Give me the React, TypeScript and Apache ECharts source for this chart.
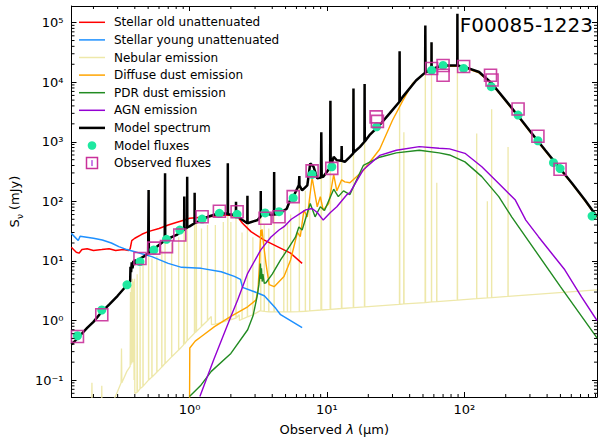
import React, { useEffect, useRef } from "react";
import * as echarts from "echarts";

const FONT = "DejaVu Sans";
const X_MIN = 0.1385;
const X_MAX = 923;
const Y_MIN = 0.052;
const Y_MAX = 1.9e5;

// [wavelength (um), flux (mJy)]
const stellarOld: number[][] = [
  [0.138, 17], [0.15, 14], [0.157, 13.5], [0.165, 15.5], [0.18, 16], [0.2, 15], [0.23, 15.5], [0.26, 16], [0.29, 15],
  [0.33, 15.5], [0.36, 15], [0.37, 16], [0.38, 22], [0.4, 24], [0.45, 28], [0.5, 31], [0.6, 35], [0.7, 40], [0.8, 44],
  [0.92, 48.5], [1.0, 52], [1.36, 55], [1.9, 59], [2.24, 55], [2.43, 43], [2.8, 31], [3.5, 22.4], [4.36, 17.4],
  [5.44, 13.5], [6.6, 9.1],
];

const stellarYoung: number[][] = [
  [0.138, 29], [0.155, 22], [0.16, 26], [0.2, 24], [0.232, 22.4], [0.27, 20], [0.306, 17.4], [0.35, 15.5], [0.4, 14.3],
  [0.532, 11.8], [0.7, 9.1], [0.875, 7.8], [1.22, 7.5], [1.7, 6.6], [2.12, 5.5], [2.35, 4.9], [2.43, 3.6], [3.13, 2.9],
  [3.5, 2.6], [4.24, 1.6], [4.6, 1.25], [6.6, 0.76],
];

const nebular: number[][] = [
  [0.138, 0.01], [0.193, 0.01], [0.195, 0.09], [0.197, 0.01], [0.228, 0.01], [0.23, 0.08], [0.232, 0.01],
  [0.27, 0.01], [0.28, 0.045], [0.3, 0.065], [0.318, 0.09], [0.32, 0.34], [0.322, 0.09], [0.35, 0.14], [0.37, 0.17],
  [0.372, 3], [0.374, 0.18], [0.378, 4], [0.38, 0.19], [0.385, 5], [0.387, 0.2], [0.39, 0.21], [0.392, 4.5],
  [0.395, 0.1], [0.398, 5], [0.4, 0.06], [0.415, 0.062], [0.416, 6], [0.418, 0.063], [0.436, 0.071], [0.437, 8],
  [0.438, 0.072], [0.458, 0.078], [0.459, 9], [0.46, 0.079], [0.503, 0.1], [0.504, 150], [0.505, 0.1],
  [0.532, 0.112], [0.533, 11], [0.534, 0.113], [0.578, 0.135], [0.579, 12], [0.58, 0.136], [0.628, 0.165],
  [0.629, 15], [0.63, 0.166], [0.663, 0.19], [0.664, 290], [0.665, 0.19], [0.741, 0.245], [0.742, 20],
  [0.743, 0.246], [0.833, 0.32], [0.834, 25], [0.835, 0.32], [0.905, 0.39], [0.916, 115], [0.92, 0.4],
  [0.96, 0.46], [0.962, 250], [0.964, 0.46], [1.086, 0.61], [1.09, 135], [1.094, 0.62], [1.12, 0.65], [1.122, 45],
  [1.125, 0.66], [1.22, 0.79], [1.222, 35], [1.225, 0.8], [1.35, 0.99], [1.352, 40], [1.355, 1.0], [1.44, 1.17],
  [1.445, 0.85], [1.54, 0.87], [1.542, 40], [1.545, 0.87], [1.76, 0.95], [1.762, 45], [1.765, 0.95], [1.895, 1.0],
  [1.9, 430], [1.905, 1.0], [1.995, 1.03], [2.0, 45], [2.005, 1.03], [2.175, 1.1], [2.18, 95], [2.185, 1.1],
  [2.3, 1.25], [2.31, 1.0], [2.41, 1.05], [2.412, 30], [2.415, 1.05], [2.635, 1.15], [2.64, 120], [2.645, 1.15],
  [2.89, 1.25], [2.892, 25], [2.895, 1.25], [3.295, 1.48], [3.3, 145], [3.305, 1.45], [3.495, 1.42], [3.5, 40],
  [3.505, 1.42], [3.77, 1.4], [3.775, 35], [3.78, 1.4], [4.12, 1.4], [4.13, 305], [4.14, 1.4], [4.85, 1.4],
  [4.855, 40], [4.86, 1.4], [5.155, 1.4], [5.16, 45], [5.165, 1.4], [5.44, 1.4], [5.445, 60], [5.45, 1.4],
  [6.29, 1.41], [6.3, 260], [6.31, 1.41], [6.96, 1.43], [6.97, 150], [6.98, 1.43], [7.49, 1.45], [7.5, 120],
  [7.51, 1.45], [9.04, 1.5], [9.1, 1400], [9.16, 1.5], [10.55, 1.54], [10.6, 4800], [10.65, 1.54], [12.75, 1.59],
  [12.8, 830], [12.85, 1.59], [15.55, 1.64], [15.6, 7700], [15.65, 1.64], [18.75, 1.69], [18.8, 9200],
  [18.85, 1.69], [33.7, 1.87], [33.8, 32000], [33.9, 1.87], [36.2, 1.9], [36.3, 1450], [36.4, 1.9], [51.8, 2.0],
  [52, 88000], [52.2, 2.0], [57.6, 2.05], [57.7, 46000], [57.8, 2.05], [62.9, 2.08], [63, 205], [63.1, 2.08],
  [88.8, 2.2], [89, 140000], [89.2, 2.2], [122.8, 2.33], [123, 1370], [123.2, 2.33], [146.8, 2.4], [147, 100],
  [147.2, 2.4], [157.8, 2.43], [158, 3500], [158.2, 2.43], [207.7, 2.55], [208, 820], [208.3, 2.55], [923, 3.27],
];

const diffuseDust: number[][] = [
  [1.0, 0.03], [1.005, 0.345], [1.1, 0.45], [1.22, 0.54], [1.52, 0.79], [2.0, 1.17], [2.65, 1.7], [3.04, 2.2],
  [3.15, 3.2], [3.22, 8], [3.27, 20], [3.3, 33], [3.33, 26], [3.37, 34], [3.45, 20], [3.6, 9.1], [3.8, 4.0],
  [4.13, 3.7], [4.87, 5.5], [5.44, 10.4], [5.9, 22], [6.1, 30], [6.4, 25.5], [6.8, 71], [7.2, 55], [7.8, 250],
  [8.5, 81], [8.95, 120], [9.4, 71], [10.3, 92], [11.2, 280], [11.8, 150], [12.8, 230], [13.5, 212], [14.7, 205],
  [18.4, 330], [24.2, 750], [30, 2300], [35.5, 4800], [42, 9500], [52, 14500], [60, 17000], [70, 18500],
  [89, 18500], [101, 17400], [128, 14300], [158, 9300], [199, 4850], [249, 2540], [310, 1340], [388, 700],
  [485, 370], [605, 198], [754, 102], [923, 54],
];

const pdrDust: number[][] = [
  [1.0, 0.053], [1.2, 0.08], [1.44, 0.14], [2.0, 0.28], [2.65, 0.7], [2.9, 1.2], [3.1, 2.5], [3.2, 4], [3.25, 6],
  [3.28, 9], [3.31, 5], [3.34, 7.5], [3.38, 4.5], [3.42, 6], [3.5, 4.2], [3.6, 4.3], [4.0, 6], [4.6, 10.4],
  [5.3, 17], [5.9, 25], [6.25, 37], [6.6, 33], [7.56, 92], [8.2, 55], [8.95, 81], [9.6, 70], [11.2, 160],
  [12.1, 120], [13.2, 150], [14.7, 130], [16, 200], [18.4, 400], [24.2, 550], [32, 650], [47, 720], [65.5, 650],
  [78, 600], [101, 460], [134, 260], [178, 120], [221, 55], [500, 3.7], [923, 0.51],
];

const agn: number[][] = [
  [1.19, 0.053], [1.5, 0.22], [2.0, 1.17], [2.24, 2.2], [2.65, 6.2], [3.3, 15.3], [3.9, 25], [4.48, 33],
  [4.87, 37.6], [5.5, 50], [6.4, 63], [7.0, 72], [7.8, 76], [8.5, 65], [9.4, 48.5], [10.6, 65], [11.8, 81],
  [14, 130], [14.7, 140], [18.4, 340], [24.2, 590], [32, 720], [47, 830], [65.5, 780], [78, 760], [101, 640],
  [134, 380], [178, 200], [235, 105], [280, 48.5], [346, 25.5], [440, 12.7], [538, 7.1], [712, 2.5], [923, 1.0],
];

const modelSpectrum: number[][] = [
  [0.138, 0.4], [0.145, 0.44], [0.16, 0.56], [0.18, 0.75], [0.2, 0.95], [0.23, 1.4], [0.26, 1.85], [0.3, 2.6],
  [0.35, 3.9], [0.37, 4.5], [0.372, 8], [0.376, 6.5], [0.38, 9.5], [0.385, 7.5], [0.39, 10], [0.395, 8.5],
  [0.4, 10.5], [0.41, 9], [0.426, 10.4], [0.44, 11], [0.47, 12], [0.5, 13.5], [0.503, 13.5], [0.504, 155],
  [0.506, 13.6], [0.53, 15], [0.56, 16.3], [0.6, 18.5], [0.66, 22], [0.662, 22], [0.664, 295], [0.666, 22],
  [0.74, 25], [0.806, 27.3], [0.9, 33], [0.914, 33], [0.916, 120], [0.918, 34], [0.96, 36], [0.962, 258],
  [0.964, 36.5], [1.0, 38], [1.088, 43], [1.09, 139], [1.092, 43], [1.22, 48.5], [1.36, 55], [1.65, 63],
  [1.895, 62], [1.9, 434], [1.905, 61], [2.175, 59], [2.18, 98], [2.185, 58], [2.43, 48.5], [2.635, 43],
  [2.64, 124], [2.645, 43], [3.13, 48.5], [3.295, 56], [3.3, 149], [3.305, 58], [3.5, 67], [3.9, 59], [4.12, 60],
  [4.13, 310], [4.14, 60], [4.48, 62], [5.1, 75], [5.44, 110], [5.75, 125], [6.25, 187], [6.29, 190], [6.3, 265],
  [6.31, 185], [6.6, 153], [7.2, 185], [7.56, 434], [8.0, 380], [8.5, 243], [9.04, 250], [9.1, 1450],
  [9.16, 255], [9.4, 258], [10.55, 370], [10.6, 4870], [10.65, 380], [11.2, 560], [11.8, 490], [12.75, 480],
  [12.8, 850], [12.85, 480], [13.5, 460], [14.7, 560], [15.55, 640], [15.6, 7800], [15.65, 660], [17.4, 820],
  [18.75, 1000], [18.8, 9300], [18.85, 1010], [20.4, 1290], [24.2, 1910], [28.7, 3020], [33.7, 4700],
  [33.8, 33000], [33.9, 4800], [35.5, 5620], [44.5, 10700], [51.8, 14500], [52, 89500], [52.2, 14600],
  [55.5, 15800], [57.6, 16500], [57.7, 47000], [57.8, 16600], [69, 19100], [88.8, 19000], [89, 141000],
  [89.2, 19000], [101, 17900], [128, 14800], [158, 9600], [199, 5000], [249, 2620], [310, 1380], [388, 720],
  [485, 380], [605, 203], [754, 105], [923, 55],
];

const modelFluxLam = [0.153, 0.23, 0.351, 0.436, 0.55, 0.68, 0.85, 1.235, 1.65, 2.22, 3.55, 4.48, 5.68, 7.8, 10.85, 23, 57.8, 70, 98.8, 157, 246, 343, 445, 497, 850];
const modelFluxVal = [0.555, 1.5, 3.97, 9.7, 15.3, 23, 33, 50.4, 63, 60.5, 64, 67, 114, 283, 380, 1780, 15800, 19100, 17000, 8400, 2800, 1040, 445, 355, 56.5];

const obsLam = [0.153, 0.23, 0.436, 0.55, 0.68, 0.85, 1.235, 1.65, 2.22, 3.55, 4.48, 5.68, 7.8, 10.85, 22.8, 23.3, 57.8, 70, 70, 98.8, 155, 159, 246, 343, 497];
const obsVal = [0.54, 1.25, 11, 16.4, 17.4, 27.3, 55, 68, 67, 52, 55, 120, 325, 357, 2620, 2200, 17000, 19100, 13100, 18300, 13100, 10900, 3550, 1240, 345];

const legendNames = [
  "Stellar old unattenuated",
  "Stellar young unattenuated",
  "Nebular emission",
  "Diffuse dust emission",
  "PDR dust emission",
  "AGN emission",
  "Model spectrum",
  "Model fluxes",
  "Observed fluxes",
];

const C_RED = "#ff0000";
const C_BLUE = "#1e90ff";
const C_NEB = "#eee8aa";
const C_ORANGE = "#ffa500";
const C_GREEN = "#228b22";
const C_PURPLE = "#9400d3";
const C_BLACK = "#000000";
const C_DOT = "#1ee8a0";
const C_SQ = "#c9309a";

const SUP: Record<string, string> = { "-": "\u207b", "0": "\u2070", "1": "\u00b9", "2": "\u00b2", "3": "\u00b3", "4": "\u2074", "5": "\u2075", "6": "\u2076", "7": "\u2077", "8": "\u2078", "9": "\u2079" };
function powLabel(v: number): string {
  const l = Math.log10(v);
  const r = Math.round(l);
  if (Math.abs(l - r) > 1e-6) return "";
  return "10" + String(r).split("").map((c) => SUP[c] || c).join("");
}

function minorValues(lo: number, hi: number): number[] {
  const out: number[] = [];
  for (let e = -3; e <= 6; e++) {
    for (let m = 2; m <= 9; m++) {
      const v = m * Math.pow(10, e);
      if (v > lo && v < hi) out.push(v);
    }
  }
  return out;
}

export default function App() {
  const ref = useRef<HTMLDivElement>(null);
  useEffect(() => {
    if (!ref.current) return;
    const chart = echarts.init(ref.current, null, { renderer: "svg" });

    const axisCommon: any = {
      type: "log",
      logBase: 10,
      axisLine: { show: true, onZero: false, lineStyle: { color: "#000", width: 1 } },
      axisTick: { show: true, inside: true, length: 5, lineStyle: { color: "#000", width: 1 } },
      splitLine: { show: false },
      minorTick: { show: false },
      minorSplitLine: { show: false },
    };
    const labelStyle = { fontSize: 13, color: "#000", fontFamily: FONT };

    const lineSeries = (name: string, data: number[][], color: string, width: number, z: number) => ({
      name,
      type: "line",
      data,
      showSymbol: false,
      symbol: "none",
      silent: true,
      z,
      lineStyle: { color, width },
      itemStyle: { color },
      clip: true,
    });

    const xMinor = minorValues(X_MIN, X_MAX);
    const yMinor = minorValues(Y_MIN, Y_MAX);
    const tickLine = (x1: number, y1: number, x2: number, y2: number) => ({
      type: "line",
      shape: { x1, y1, x2, y2 },
      style: { stroke: "#000", lineWidth: 1 },
    });

    const legendColors = [C_RED, C_BLUE, C_NEB, C_ORANGE, C_GREEN, C_PURPLE, C_BLACK];
    const legendGraphics: any[] = [];
    legendNames.forEach((n, i) => {
      const y = 22.3 + i * 17.6;
      if (i < 7) {
        legendGraphics.push({
          type: "line",
          shape: { x1: 79, y1: y, x2: 105, y2: y },
          style: { stroke: legendColors[i], lineWidth: i === 6 ? 2.5 : 1.5 },
        });
      } else if (i === 7) {
        legendGraphics.push({ type: "circle", shape: { cx: 92, cy: y, r: 4.3 }, style: { fill: C_DOT } });
      } else {
        legendGraphics.push({
          type: "rect",
          shape: { x: 86.5, y: y - 5.5, width: 11, height: 11 },
          style: { fill: "none", stroke: C_SQ, lineWidth: 1.5 },
        });
        legendGraphics.push({ type: "line", shape: { x1: 92, y1: y - 3, x2: 92, y2: y + 3 }, style: { stroke: C_PURPLE, lineWidth: 1 } });
      }
      legendGraphics.push({
        type: "text",
        x: 114,
        y,
        style: { text: n, fontSize: 12, fontFamily: FONT, fill: "#000", verticalAlign: "middle", align: "left" },
      });
    });

    chart.setOption({
      animation: false,
      backgroundColor: "#fff",
      title: {
        text: "F00085-1223",
        right: 2,
        top: 10,
        textStyle: { fontSize: 20, fontWeight: "normal", fontFamily: FONT, color: "#000" },
      },
      grid: { left: 69, right: 1, top: 6, bottom: 49, containLabel: false },
      xAxis: [
        {
          ...axisCommon,
          min: X_MIN,
          max: X_MAX,
          position: "bottom",
          axisLabel: { ...labelStyle, margin: 6, formatter: powLabel },
          name: "{a|Observed }{i|\u03bb}{a| (\u03bcm)}",
          nameLocation: "middle",
          nameGap: 26,
          nameTextStyle: {
            rich: {
              a: { fontSize: 13, fontFamily: FONT, color: "#000" },
              i: { fontSize: 13, fontFamily: FONT, color: "#000", fontStyle: "italic" },
            },
          },
        },
        {
          ...axisCommon,
          min: X_MIN,
          max: X_MAX,
          position: "top",
          axisLabel: { show: false },
        },
      ],
      yAxis: [
        {
          ...axisCommon,
          min: Y_MIN,
          max: Y_MAX,
          position: "left",
          axisLabel: { ...labelStyle, margin: 8, formatter: powLabel },
          name: "{a|S}{b|\u03bd}{a| (mJy)}",
          nameLocation: "middle",
          nameGap: 37,
          nameRotate: 90,
          nameTextStyle: {
            rich: {
              a: { fontSize: 13, fontFamily: FONT, color: "#000", lineHeight: 18, verticalAlign: "bottom" },
              b: { fontSize: 9, fontFamily: FONT, color: "#000", lineHeight: 9, verticalAlign: "bottom", padding: [0, 0, -3, 0] },
            },
          },
        },
        {
          ...axisCommon,
          min: Y_MIN,
          max: Y_MAX,
          position: "right",
          axisLabel: { show: false },
        },
      ],
      graphic: legendGraphics,
      series: [
        lineSeries("Stellar old unattenuated", stellarOld, C_RED, 1.5, 2),
        lineSeries("Stellar young unattenuated", stellarYoung, C_BLUE, 1.5, 2),
        lineSeries("Nebular emission", nebular, C_NEB, 1.3, 1),
        lineSeries("Diffuse dust emission", diffuseDust, C_ORANGE, 1.4, 3),
        lineSeries("PDR dust emission", pdrDust, C_GREEN, 1.4, 3),
        lineSeries("AGN emission", agn, C_PURPLE, 1.4, 3),
        lineSeries("Model spectrum", modelSpectrum, C_BLACK, 2.5, 4),
        {
          name: "Model fluxes",
          type: "scatter",
          data: modelFluxLam.map((l, i) => [l, modelFluxVal[i]]),
          symbol: "circle",
          symbolSize: 9,
          itemStyle: { color: C_DOT, opacity: 1 },
          silent: true,
          z: 5,
        },
        {
          name: "Observed fluxes",
          type: "scatter",
          data: obsLam.map((l, i) => [l, obsVal[i]]),
          symbol: "rect",
          symbolSize: 12,
          itemStyle: { color: "rgba(0,0,0,0)", borderColor: C_SQ, borderWidth: 1.6, opacity: 0.9 },
          silent: true,
          z: 6,
        },
        {
          type: "custom",
          silent: true,
          clip: false,
          z: 10,
          data: xMinor.map((v) => [v, Y_MIN]),
          renderItem: (_p: any, api: any) => {
            const v = api.value(0);
            const b = api.coord([v, Y_MIN]);
            const t = api.coord([v, Y_MAX]);
            return {
              type: "group",
              children: [tickLine(b[0], b[1], b[0], b[1] - 3), tickLine(t[0], t[1], t[0], t[1] + 3)],
            };
          },
        },
        {
          type: "custom",
          silent: true,
          clip: false,
          z: 10,
          data: yMinor.map((v) => [X_MIN, v]),
          renderItem: (_p: any, api: any) => {
            const v = api.value(1);
            const l = api.coord([X_MIN, v]);
            const r = api.coord([X_MAX, v]);
            return {
              type: "group",
              children: [tickLine(l[0], l[1], l[0] + 3, l[1]), tickLine(r[0], r[1], r[0] - 3, r[1])],
            };
          },
        },
      ],
    });
    return () => chart.dispose();
  }, []);
  return <div ref={ref} style={{ position: "fixed", left: 0, top: 0, width: 600, height: 446 }} />;
}
